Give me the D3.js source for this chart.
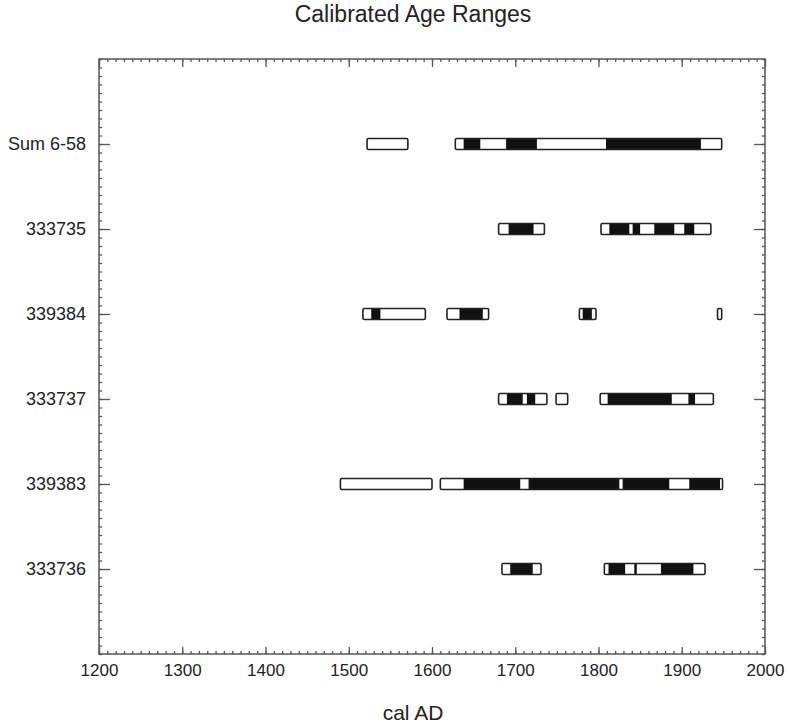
<!DOCTYPE html>
<html>
<head>
<meta charset="utf-8">
<script src="https://cdn.jsdelivr.net/npm/d3@7"></script>
<style>
  body { margin: 0; background: white; }
  text { font-family: "Liberation Sans", Arial, sans-serif; fill: #222; }
</style>
</head>
<body>
<div id="chart"></div>
<script>
// samples, top to bottom
const samples = ["Sum 6-58", "333735", "339384", "333737", "339383", "333736"]
// 2 sigma ranges (white boxes), cal AD
const range2s = [
  [[1522, 1571], [1628, 1948]],
  [[1680, 1735], [1803, 1935]],
  [[1517, 1592], [1618, 1668], [1777, 1797], [1943, 1948]],
  [[1680, 1738], [1749, 1763], [1802, 1938]],
  [[1490, 1600], [1610, 1949]],
  [[1684, 1731], [1807, 1928]]
]
// 1 sigma ranges (black fill)
const range1s = [
  [[1638, 1658], [1689, 1726], [1809, 1923]],
  [[1692, 1722], [1813, 1837], [1841, 1850], [1867, 1891], [1903, 1915]],
  [[1527, 1538], [1633, 1661], [1781, 1792]],
  [[1690, 1709], [1714, 1724], [1811, 1888], [1908, 1916]],
  [[1638, 1706], [1716, 1825], [1829, 1885], [1909, 1946]],
  [[1694, 1721], [1812, 1832], [1843, 1846], [1875, 1914]]
]
const xTicks = [1200, 1300, 1400, 1500, 1600, 1700, 1800, 1900, 2000]

const W = 788, H = 725
const L = 99, R = 765, T = 59, B = 654

let svg = d3.select("#chart").append("svg")
    .attr("width", W).attr("height", H)

let x = d3.scaleLinear().domain([1200, 2000]).range([L, R])
let y = d3.scaleLinear().domain([0, 7]).range([T, B])

let minorX = d3.range(1200, 2001, 10)
let minorY = d3.range(0, 71).map(d => d / 10)

// x axes, ticks pointing inward
svg.append("g").attr("class", "x_minor_bottom")
    .attr("transform", "translate(0," + B + ")")
    .call(d3.axisBottom(x).tickValues(minorX).tickSize(-3).tickFormat(""))
svg.append("g").attr("class", "x_major_bottom")
    .attr("transform", "translate(0," + B + ")")
    .call(d3.axisBottom(x).tickValues(xTicks).tickSize(-7).tickPadding(10).tickFormat(d3.format("d")))
svg.append("g").attr("class", "x_minor_top")
    .attr("transform", "translate(0," + T + ")")
    .call(d3.axisTop(x).tickValues(minorX).tickSize(-3).tickFormat(""))
svg.append("g").attr("class", "x_major_top")
    .attr("transform", "translate(0," + T + ")")
    .call(d3.axisTop(x).tickValues(xTicks).tickSize(-8).tickFormat(""))

// y axes
svg.append("g").attr("class", "y_minor_left")
    .attr("transform", "translate(" + L + ",0)")
    .call(d3.axisLeft(y).tickValues(minorY).tickSize(-3).tickFormat(""))
svg.append("g").attr("class", "y_major_left")
    .attr("transform", "translate(" + L + ",0)")
    .call(d3.axisLeft(y).tickValues(d3.range(1, 7)).tickSize(-11).tickPadding(13)
        .tickFormat(d => samples[d - 1]))
svg.append("g").attr("class", "y_minor_right")
    .attr("transform", "translate(" + R + ",0)")
    .call(d3.axisRight(y).tickValues(minorY).tickSize(-3).tickFormat(""))
svg.append("g").attr("class", "y_major_right")
    .attr("transform", "translate(" + R + ",0)")
    .call(d3.axisRight(y).tickValues(d3.range(1, 7)).tickSize(-11).tickFormat(""))

svg.selectAll(".domain").remove()
svg.selectAll(".tick line").attr("stroke", "#555").attr("stroke-width", 1.3)
svg.selectAll(".tick text").attr("fill", "#222")
    .style("font-family", "'Liberation Sans', Arial, sans-serif")
svg.selectAll(".x_major_bottom .tick text").style("font-size", "17px")
svg.selectAll(".y_major_left .tick text").style("font-size", "18px")

// frame
svg.append("rect")
    .attr("x", L).attr("y", T).attr("width", R - L).attr("height", B - T)
    .attr("fill", "none").attr("stroke", "#555").attr("stroke-width", 1.5)

// bars
const barH = 11
samples.forEach(function(s, i){
    let g = svg.append("g").attr("class", "row")
    let cy = y(i + 1)
    g.selectAll("rect.one")
        .data(range1s[i]).enter()
        .append("rect").attr("class", "one")
        .attr("x", d => x(d[0])).attr("width", d => x(d[1]) - x(d[0]))
        .attr("y", cy - barH / 2).attr("height", barH)
        .attr("fill", "#111")
    g.selectAll("rect.two")
        .data(range2s[i]).enter()
        .append("rect").attr("class", "two")
        .attr("x", d => x(d[0])).attr("width", d => x(d[1]) - x(d[0]))
        .attr("y", cy - barH / 2).attr("height", barH)
        .attr("rx", 1.5)
        .attr("fill", "none").attr("stroke", "#222").attr("stroke-width", 1.6)
})

// titles
svg.append("text").attr("x", 413).attr("y", 22)
    .attr("text-anchor", "middle").style("font-size", "23px")
    .text("Calibrated Age Ranges")
svg.append("text").attr("x", 413).attr("y", 720)
    .attr("text-anchor", "middle").style("font-size", "21px")
    .text("cal AD")
</script>
</body>
</html>
